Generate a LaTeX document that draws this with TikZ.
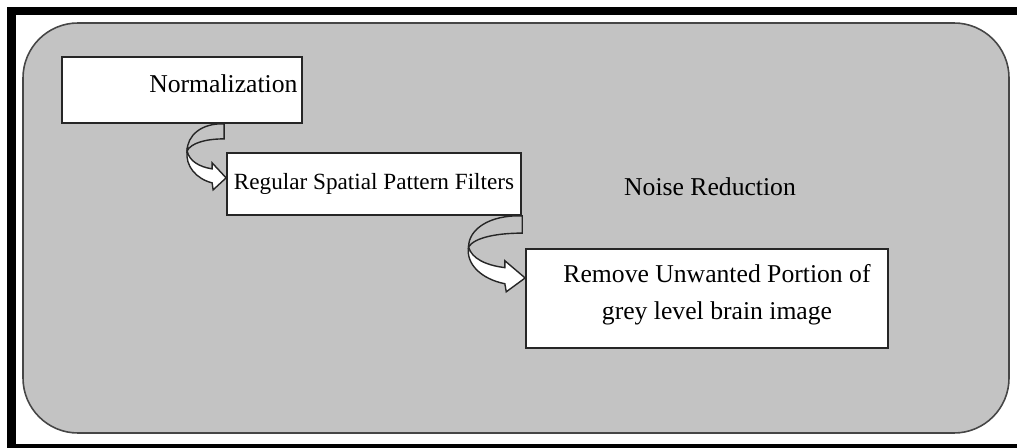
\documentclass[tikz,border=0pt]{standalone}
\usepackage{fontspec}
\setmainfont{Liberation Serif}
\definecolor{panel}{RGB}{195,195,195}
\definecolor{rim}{RGB}{70,70,70}
\tikzset{
	StepBox/.style={draw=black!85,fill=white,line width=0.5pt,inner sep=0pt},
	turn/.pic={
		\filldraw[fill=panel,draw=black!85,line width=0.4pt] (-0.02,0) .. controls (-0.25,0.01) and (-0.39,-0.12) .. (-0.39,-0.27) .. controls (-0.35,-0.19) and (-0.20,-0.15) .. (-0.02,-0.15) -- cycle;
		\filldraw[fill=white,draw=black!85,line width=0.4pt] (-0.39,-0.27) .. controls (-0.41,-0.42) and (-0.30,-0.55) .. (-0.14,-0.59) -- (-0.13,-0.66) -- (0,-0.54) -- (-0.14,-0.39) -- (-0.14,-0.45) .. controls (-0.27,-0.43) and (-0.37,-0.37) .. (-0.39,-0.27) -- cycle;
	}
}

\begin{document}
\begin{tikzpicture}[font=\fontsize{7.3}{10.5}\selectfont]
	\useasboundingbox (0,0) rectangle (10.17,-4.48);
	% frame
	\fill (0.07,-0.07) rectangle (10.17,-0.15);
	\fill (0.07,-0.07) rectangle (0.155,-4.48);
	\fill (0.07,-4.44) rectangle (10.17,-4.48);
	\filldraw[fill=panel,draw=rim,line width=0.45pt,rounded corners=0.55cm] (0.23,-0.23) rectangle (10.09,-4.33);
	% steps
	\node[StepBox,minimum width=2.40cm,minimum height=0.66cm] (norm) at (1.82,-0.90) {};
	\node[anchor=east] (normtext) at ([xshift=0.07cm,yshift=0.06cm]norm.east) {Normalization};
	\node[StepBox,minimum width=2.94cm,minimum height=0.62cm,font=\fontsize{6.6}{8}\selectfont] (filt) at (3.74,-1.84) {Regular Spatial Pattern Filters};
	\node[StepBox,minimum width=3.62cm,minimum height=0.99cm] (remove) at (7.07,-2.985) {};
	\node[align=center] (removetext) at ([xshift=0.10cm,yshift=0.04cm]remove.center) {Remove Unwanted Portion of\\grey level brain image};
	\node (noise) at (7.10,-1.87) {Noise Reduction};
	% arrows
	\pic at (filt.west |- norm.south) {turn};
	\pic[xscale=1.45,yscale=1.15] at (remove.west |- filt.south) {turn};
\end{tikzpicture}
\end{document}
